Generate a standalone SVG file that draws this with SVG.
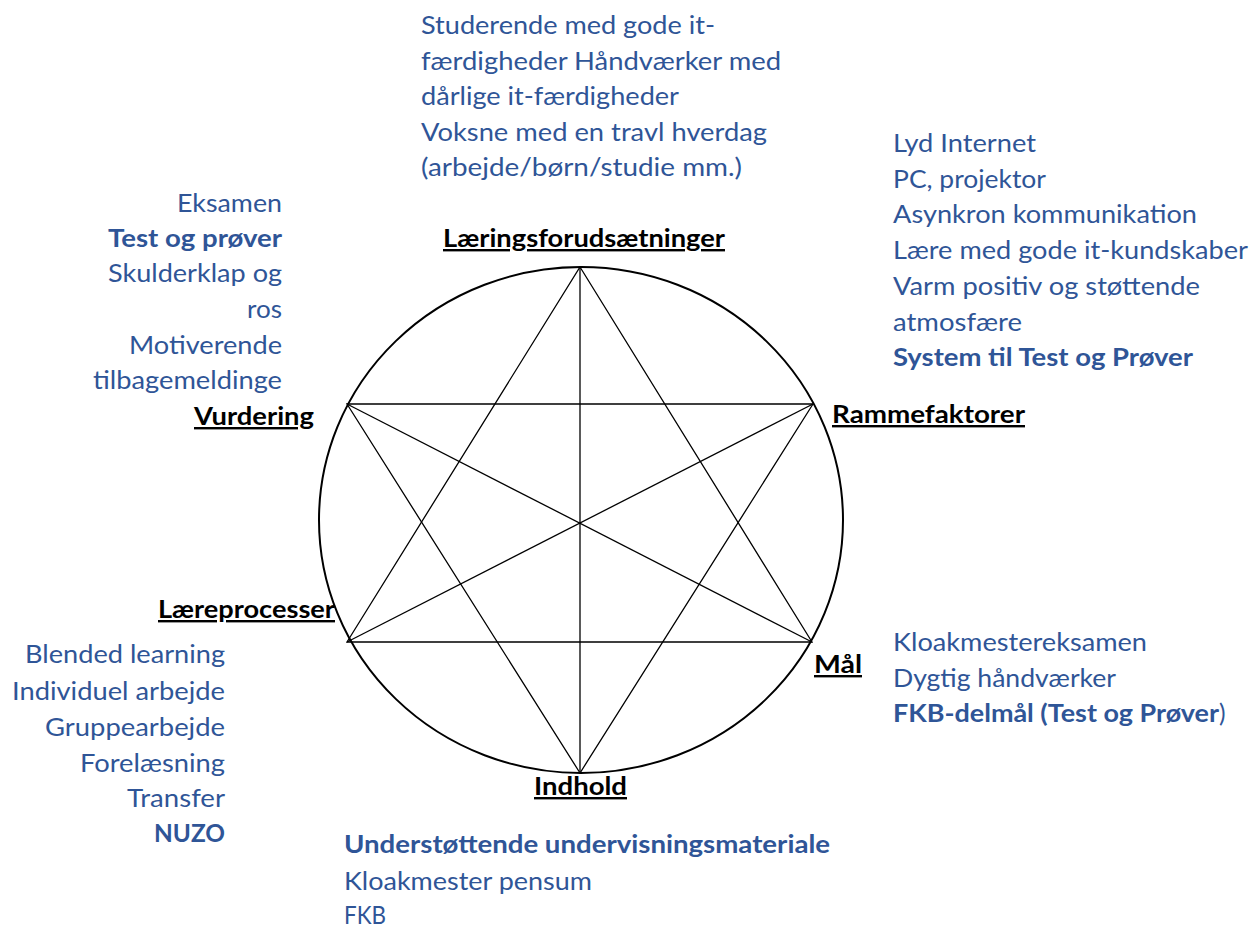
<svg xmlns="http://www.w3.org/2000/svg" width="1253" height="929" viewBox="0 0 1253 929">
<style>
.b{font-family:Lato,"Liberation Sans",sans-serif;font-size:24.5px;fill:#2F5597}
.bb{font-family:Lato,"Liberation Sans",sans-serif;font-size:24.5px;fill:#2F5597;font-weight:bold}
.lbl{font-family:Lato,"Liberation Sans",sans-serif;font-size:24px;fill:#000;font-weight:bold;text-decoration:underline}
.e{text-anchor:end}
.ln{stroke:#000;stroke-width:1.3;fill:none}
</style>
<rect width="1253" height="929" fill="#fff"/>
<g id="connectors">
<ellipse cx="581" cy="520" rx="262" ry="253" fill="none" stroke="#000" stroke-width="2"/>
<polygon class="ln" points="580,267 812,642 347,642"/>
<polygon class="ln" points="580,773 347,404 813,404"/>
<line class="ln" x1="580" y1="267" x2="580" y2="773"/>
<line class="ln" x1="347" y1="404" x2="812" y2="642"/>
<line class="ln" x1="813" y1="404" x2="347" y2="642"/>
</g>
<g id="node-laeringsforudsaetninger">
<text class="lbl" x="443" y="247" textLength="282" lengthAdjust="spacingAndGlyphs">Læringsforudsætninger</text>
<text class="b" x="421" y="34" textLength="294" lengthAdjust="spacingAndGlyphs">Studerende med gode it-</text>
<text class="b" x="421" y="70" textLength="360" lengthAdjust="spacingAndGlyphs">færdigheder Håndværker med</text>
<text class="b" x="421" y="105" textLength="258" lengthAdjust="spacingAndGlyphs">dårlige it-færdigheder</text>
<text class="b" x="421" y="141" textLength="346" lengthAdjust="spacingAndGlyphs">Voksne med en travl hverdag</text>
<text class="b" x="421" y="176" textLength="321" lengthAdjust="spacingAndGlyphs">(arbejde/børn/studie mm.)</text>
</g>
<g id="node-rammefaktorer">
<text class="lbl" x="832" y="423" textLength="193" lengthAdjust="spacingAndGlyphs">Rammefaktorer</text>
<text class="b" x="893" y="152" textLength="143" lengthAdjust="spacingAndGlyphs">Lyd Internet</text>
<text class="b" x="893" y="188" textLength="153" lengthAdjust="spacingAndGlyphs">PC, projektor</text>
<text class="b" x="893" y="223" textLength="304" lengthAdjust="spacingAndGlyphs">Asynkron kommunikation</text>
<text class="b" x="893" y="259" textLength="355" lengthAdjust="spacingAndGlyphs">Lære med gode it-kundskaber</text>
<text class="b" x="893" y="295" textLength="307" lengthAdjust="spacingAndGlyphs">Varm positiv og støttende</text>
<text class="b" x="893" y="331" textLength="129" lengthAdjust="spacingAndGlyphs">atmosfære</text>
<text class="bb" x="893" y="366" textLength="300" lengthAdjust="spacingAndGlyphs">System til Test og Prøver</text>
</g>
<g id="node-vurdering">
<text class="lbl" x="194" y="425" textLength="120" lengthAdjust="spacingAndGlyphs">Vurdering</text>
<text class="b e" x="282" y="212" textLength="105" lengthAdjust="spacingAndGlyphs">Eksamen</text>
<text class="bb e" x="282" y="247" textLength="174" lengthAdjust="spacingAndGlyphs">Test og prøver</text>
<text class="b e" x="282" y="282" textLength="174" lengthAdjust="spacingAndGlyphs">Skulderklap og</text>
<text class="b e" x="282" y="318" textLength="35" lengthAdjust="spacingAndGlyphs">ros</text>
<text class="b e" x="282" y="354" textLength="153" lengthAdjust="spacingAndGlyphs">Motiverende</text>
<text class="b e" x="282" y="389" textLength="189" lengthAdjust="spacingAndGlyphs">tilbagemeldinge</text>
</g>
<g id="node-laereprocesser">
<text class="lbl" x="158" y="618" textLength="177" lengthAdjust="spacingAndGlyphs">Læreprocesser</text>
<text class="b e" x="225" y="663" textLength="200" lengthAdjust="spacingAndGlyphs">Blended learning</text>
<text class="b e" x="225" y="700" textLength="213" lengthAdjust="spacingAndGlyphs">Individuel arbejde</text>
<text class="b e" x="225" y="736" textLength="180" lengthAdjust="spacingAndGlyphs">Gruppearbejde</text>
<text class="b e" x="225" y="772" textLength="145" lengthAdjust="spacingAndGlyphs">Forelæsning</text>
<text class="b e" x="225" y="807" textLength="98" lengthAdjust="spacingAndGlyphs">Transfer</text>
<text class="bb e" x="225" y="842" textLength="71" lengthAdjust="spacingAndGlyphs">NUZO</text>
</g>
<g id="node-maal">
<text class="lbl" x="814" y="673" textLength="48" lengthAdjust="spacingAndGlyphs">Mål</text>
<text class="b" x="893" y="651" textLength="254" lengthAdjust="spacingAndGlyphs">Kloakmestereksamen</text>
<text class="b" x="893" y="687" textLength="223" lengthAdjust="spacingAndGlyphs">Dygtig håndværker</text>
<text class="bb" x="893" y="722" textLength="326" lengthAdjust="spacingAndGlyphs">FKB-delmål (Test og Prøver</text>
<text class="b" x="1219" y="722">)</text>
</g>
<g id="node-indhold">
<text class="lbl" x="534" y="795" textLength="93" lengthAdjust="spacingAndGlyphs">Indhold</text>
<text class="bb" x="344" y="853" textLength="486" lengthAdjust="spacingAndGlyphs">Understøttende undervisningsmateriale</text>
<text class="b" x="344" y="890" textLength="248" lengthAdjust="spacingAndGlyphs">Kloakmester pensum</text>
<text class="b" x="344" y="924" textLength="42" lengthAdjust="spacingAndGlyphs">FKB</text>
</g>
</svg>
